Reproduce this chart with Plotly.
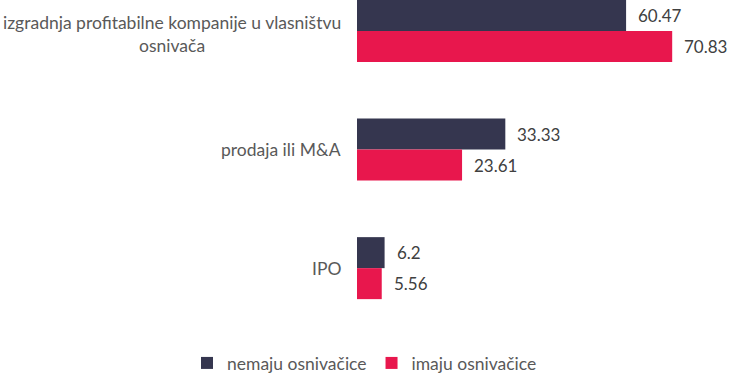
import plotly.graph_objects as go

categories = ["izgradnja profitabilne kompanije u vlasništvu<br>osnivača", "prodaja ili M&A", "IPO"]
series_names = ["nemaju osnivačice", "imaju osnivačice"]
nemaju = [60.47, 33.33, 6.2]
imaju = [70.83, 23.61, 5.56]
colors = ["#35364F", "#E8174D"]

W, H = 729, 377
bargap = 0.477
fig = go.Figure()
idx = list(range(len(categories)))
for name, vals, col in zip(series_names, [nemaju, imaju], colors):
    fig.add_trace(go.Bar(y=idx, x=vals, name=name, orientation="h",
                         marker=dict(color=col, line=dict(width=0)),
                         hoverinfo="skip"))

font = "Lato"
bw = (1 - bargap) / 2
anns = []
for k, vals in enumerate([nemaju, imaju]):
    off = -bw / 2 if k == 0 else bw / 2
    for i, v in enumerate(vals):
        anns.append(dict(x=v, y=i + off, xref="x", yref="y", text=str(v),
                         showarrow=False, xanchor="left", yanchor="middle",
                         xshift=10, font=dict(family=font, size=17, color="#404040")))
for i, c in enumerate(categories):
    anns.append(dict(x=0, y=i, xref="paper", yref="y", text=c, showarrow=False,
                     xanchor="right", yanchor="middle", xshift=-14, align="center",
                     yshift=-3 if "<br>" in c else 0,
                     font=dict(family=font, size=17.5, color="#595959")))

fig.update_layout(
    width=W, height=H,
    margin=dict(l=357, r=0, t=0, b=49, pad=0),
    barmode="group", bargap=bargap, bargroupgap=0,
    plot_bgcolor="white", paper_bgcolor="white",
    xaxis=dict(range=[0, 372 / 4.45], visible=False, fixedrange=True),
    yaxis=dict(range=[2.505, -0.262], tickmode="array", tickvals=idx,
               showticklabels=False, showgrid=False, zeroline=False, showline=False,
               fixedrange=True),
    showlegend=True,
    legend=dict(orientation="h", xref="container", yref="container", x=0.5, y=0.037,
                xanchor="center", yanchor="middle",
                font=dict(family=font, size=17.5, color="#595959"),
                itemwidth=30, traceorder="normal"),
    annotations=anns,
)
fig.write_html("out.html", config={"displayModeBar": False},
               post_script="document.body.style.margin='0';document.body.style.padding='0';")
